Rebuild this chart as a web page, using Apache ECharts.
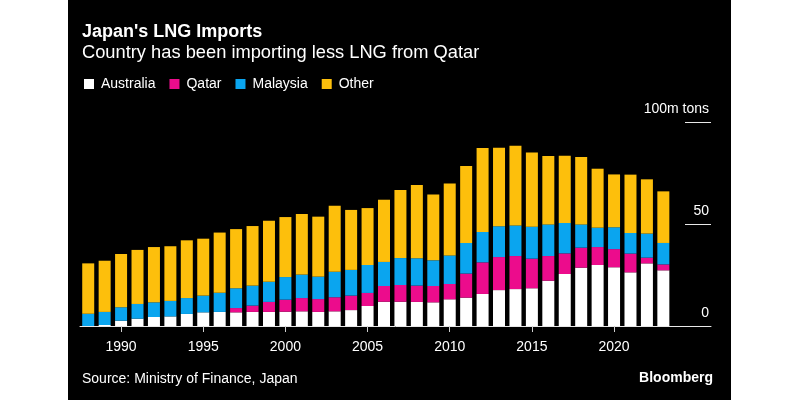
<!DOCTYPE html>
<html>
<head>
<meta charset="utf-8">
<script src="https://cdn.jsdelivr.net/npm/echarts@6/dist/echarts.min.js"></script>
<style>
  html, body { margin: 0; padding: 0; background: #fff; }
  #chart { width: 800px; height: 400px; background: linear-gradient(to right, #fff 68px, #000 68px, #000 731px, #fff 731px); }
</style>
</head>
<body>
<div id="chart"></div>
<script>
const years = [1988,1989,1990,1991,1992,1993,1994,1995,1996,1997,1998,1999,2000,2001,2002,2003,2004,2005,2006,2007,2008,2009,2010,2011,2012,2013,2014,2015,2016,2017,2018,2019,2020,2021,2022,2023];
const australia = [0,0.5,2.6,3.6,4.4,4.7,5.9,6.7,6.9,6.7,6.9,6.9,7.0,7.2,6.9,7.2,7.8,9.8,11.9,11.9,11.8,11.6,13.1,13.9,15.7,17.6,18.1,18.5,22.2,25.5,28.6,29.9,28.8,26.3,30.7,27.3];
const qatar = [0,0,0,0,0,0,0,0,0,2.1,3.1,4.9,5.9,6.5,6.3,6.9,7.1,6.4,7.7,8.2,8.0,8.0,7.5,11.8,15.5,16.2,16.2,14.5,12.1,10.1,9.8,8.8,8.9,9.2,2.8,2.9];
const malaysia = [6.0,6.4,6.6,7.2,7.2,7.6,7.8,8.2,9.4,9.7,9.8,9.9,11.1,11.5,11.0,12.5,12.6,13.7,11.8,13.2,13.4,12.6,14.0,15.0,14.9,15.1,15.0,15.7,15.5,14.9,11.4,9.5,10.7,10.1,11.8,10.5];
const other = [24.7,25.1,26.1,26.5,27.1,26.8,28.3,27.9,29.5,29.0,29.2,29.9,29.4,29.7,29.4,32.4,29.4,27.9,30.5,33.4,35.9,32.2,35.3,37.7,41.2,38.5,39.1,36.3,33.5,33.0,33.0,28.9,25.9,28.6,26.6,25.3];
const xTickYears = [1990,1995,2000,2005,2010,2015,2020];
const seriesNames = ['Australia','Qatar','Malaysia','Other'];
const colors = ['#ffffff','#ec0c8c','#0aa5ef','#fdbf0c'];

const FONT = '"Liberation Sans", Arial, sans-serif';
const chart = echarts.init(document.getElementById('chart'), null, {renderer: 'canvas'});
// value first so that the value dimension is the stacked one
const pairs = arr => years.map((y, i) => [arr[i], y]);
const seriesData = [australia, qatar, malaysia, other];

chart.setOption({
  animation: false,
  textStyle: { fontFamily: FONT },
  color: colors,
  title: [
    { text: "Japan's LNG Imports", left: 82, top: 23, padding: 0,
      textStyle: { color: '#fff', fontSize: 18, fontWeight: 'bold', fontFamily: FONT, lineHeight: 18 } },
    { text: 'Country has been importing less LNG from Qatar', left: 82, top: 44, padding: 0,
      textStyle: { color: '#fff', fontSize: 18.3, fontWeight: 'normal', fontFamily: FONT, lineHeight: 18 } },
    { text: 'Source: Ministry of Finance, Japan', left: 82, top: 372, padding: 0,
      textStyle: { color: '#fff', fontSize: 14, fontWeight: 'normal', fontFamily: FONT, lineHeight: 14 } },
    { text: 'Bloomberg', right: 87, top: 371, padding: 0,
      textStyle: { color: '#fff', fontSize: 14, fontWeight: 'bold', fontFamily: FONT, lineHeight: 14 } }
  ],
  legend: {
    data: seriesNames, left: 84, top: 77, padding: 0,
    icon: 'rect', itemWidth: 10, itemHeight: 10, itemGap: 14,
    textStyle: { color: '#fff', fontSize: 14, fontFamily: FONT, lineHeight: 14, padding: [0,0,0,2] }
  },
  grid: { left: 80, right: 89, top: 122, bottom: 74, containLabel: false },
  xAxis: {
    type: 'value', min: 1987.5, max: 2025.9,
    splitLine: { show: false },
    axisLine: { show: true, lineStyle: { color: '#e8e8e8', width: 1 } },
    axisTick: { show: true, customValues: xTickYears, length: 6, lineStyle: { color: '#cfcfcf' } },
    axisLabel: { customValues: xTickYears, color: '#fff', fontSize: 14, margin: 14, fontFamily: FONT,
      formatter: v => String(v) }
  },
  yAxis: {
    type: 'value', position: 'right', min: 0, max: 100, interval: 50,
    splitLine: { show: false },
    axisLine: { show: false },
    axisTick: { show: true, inside: true, length: 26, lineStyle: { color: '#e8e8e8', width: 1 } },
    axisLabel: { inside: true, margin: 2, color: '#fff', fontSize: 14, fontFamily: FONT,
      verticalAlign: 'bottom', padding: [0,0,6,0],
      formatter: v => v === 100 ? '100m tons' : String(v) }
  },
  series: seriesNames.map((n, i) => ({
    name: n, type: 'bar', stack: 'total', barWidth: 12,
    encode: { x: 1, y: 0 },
    itemStyle: { color: colors[i] },
    data: pairs(seriesData[i])
  }))
});
</script>
</body>
</html>
